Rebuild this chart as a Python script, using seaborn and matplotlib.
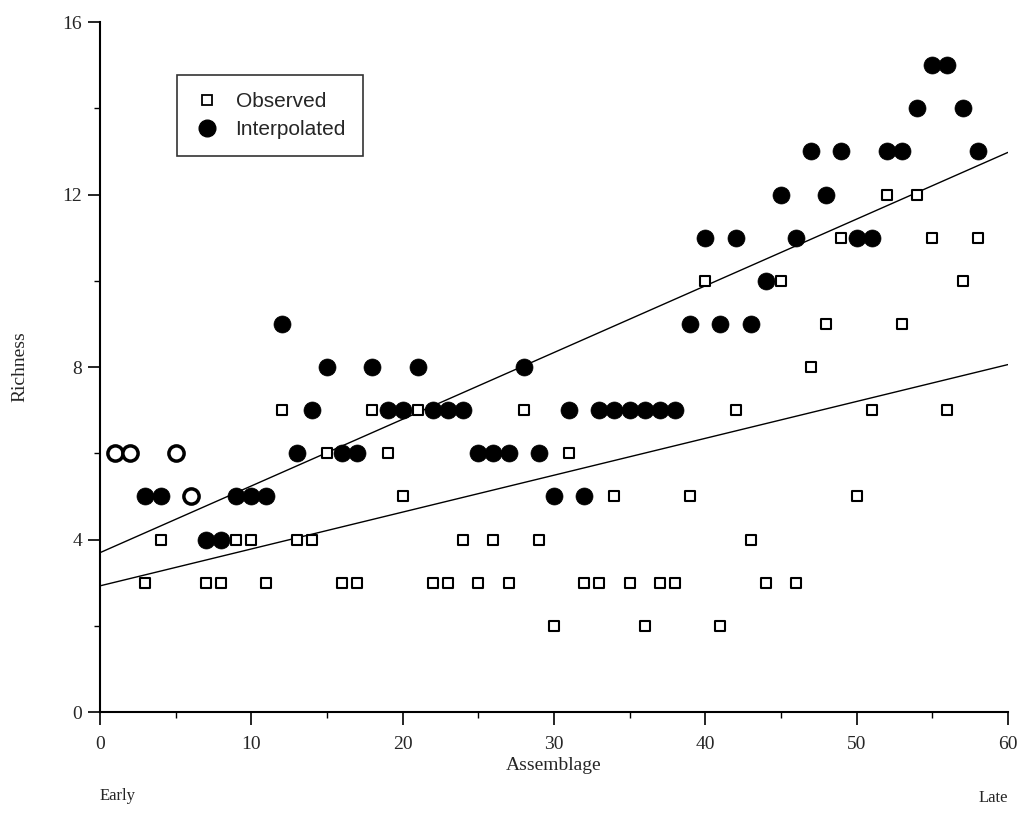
import numpy as np
import pandas as pd
import seaborn as sns
import matplotlib.pyplot as plt
from matplotlib.ticker import MultipleLocator
from matplotlib.lines import Line2D

# assemblage number, observed richness, interpolated richness
assemblage = list(range(1, 59))
observed = [6, 6, 3, 4, 6, 5, 3, 3, 4, 4,
            3, 7, 4, 4, 6, 3, 3, 7, 6, 5,
            7, 3, 3, 4, 3, 4, 3, 7, 4, 2,
            6, 3, 3, 5, 3, 2, 3, 3, 5, 10,
            2, 7, 4, 3, 10, 3, 8, 9, 11, 5,
            7, 12, 9, 12, 11, 7, 10, 11]
interpolated = [6, 6, 5, 5, 6, 5, 4, 4, 5, 5,
                5, 9, 6, 7, 8, 6, 6, 8, 7, 7,
                8, 7, 7, 7, 6, 6, 6, 8, 6, 5,
                7, 5, 7, 7, 7, 7, 7, 7, 9, 11,
                9, 11, 9, 10, 12, 11, 13, 12, 13, 11,
                11, 13, 13, 14, 15, 15, 14, 13]

data = pd.DataFrame({'assemblage': assemblage,
                     'observed': observed,
                     'interpolated': interpolated})
# where both agree the circle is drawn open
same = data[data.observed == data.interpolated]
diff = data[data.observed != data.interpolated]

sns.set_style("white")
plt.rcParams['font.family'] = ['Liberation Serif', 'DejaVu Serif']

fig = plt.figure(figsize=(10.31, 8.22), dpi=100)
ax = fig.add_axes([0.097, 0.1338, 0.8806, 0.8394])
ax.set_xlim(0, 60)
ax.set_ylim(0, 16)

# regression lines over the full x range
sns.regplot(data=data, x='assemblage', y='interpolated', ax=ax, ci=None,
            truncate=False, scatter=False, line_kws=dict(color='black', lw=1.0))
sns.regplot(data=data, x='assemblage', y='observed', ax=ax, ci=None,
            truncate=False, scatter=False, line_kws=dict(color='black', lw=1.0))

sns.scatterplot(data=diff, x='assemblage', y='observed', ax=ax, marker='s',
                s=60, facecolor='white', edgecolor='black', linewidth=1.5, zorder=3)
sns.scatterplot(data=diff, x='assemblage', y='interpolated', ax=ax, marker='o',
                s=150, color='black', edgecolor='black', linewidth=0.5, zorder=4)
sns.scatterplot(data=same, x='assemblage', y='interpolated', ax=ax, marker='o',
                s=120, facecolor='white', edgecolor='black', linewidth=2.5, zorder=4)

sns.despine(ax=ax)
ax.spines['left'].set_linewidth(1.5)
ax.spines['bottom'].set_linewidth(1.5)
ax.spines['left'].set_color('black')
ax.spines['bottom'].set_color('black')

ax.xaxis.set_major_locator(MultipleLocator(10))
ax.xaxis.set_minor_locator(MultipleLocator(5))
ax.yaxis.set_major_locator(MultipleLocator(4))
ax.yaxis.set_minor_locator(MultipleLocator(2))
ax.tick_params(which='major', direction='out', length=9, width=1.2,
               color='black', labelsize=14, bottom=True, left=True)
ax.tick_params(axis='x', which='major', pad=8)
ax.tick_params(axis='y', which='major', pad=4)
ax.tick_params(which='minor', direction='out', length=4, width=1.0,
               color='black', bottom=True, left=True)

ax.set_xlabel('Assemblage', fontsize=14, labelpad=3)
ax.set_ylabel('Richness', fontsize=14, labelpad=24)

fig.text(0.097, 0.022, 'Early', fontsize=12, ha='left', va='bottom')
fig.text(0.9777, 0.019, 'Late', fontsize=12, ha='right', va='bottom')

handles = [Line2D([], [], ls='', marker='s', markersize=7.5, markerfacecolor='white',
                  markeredgecolor='black', markeredgewidth=1.3),
           Line2D([], [], ls='', marker='o', markersize=12, color='black')]
leg = ax.legend(handles, ['Observed', 'Interpolated'], loc='upper left',
                bbox_to_anchor=(0.085, 0.923), frameon=True, fancybox=False,
                prop={'family': 'Liberation Sans', 'size': 15},
                handletextpad=0.7, borderpad=0.8, handlelength=1.3,
                labelspacing=0.45, borderaxespad=0)
leg.get_frame().set_edgecolor('black')
leg.get_frame().set_linewidth(1.2)

fig.savefig('out.png', dpi=100)
